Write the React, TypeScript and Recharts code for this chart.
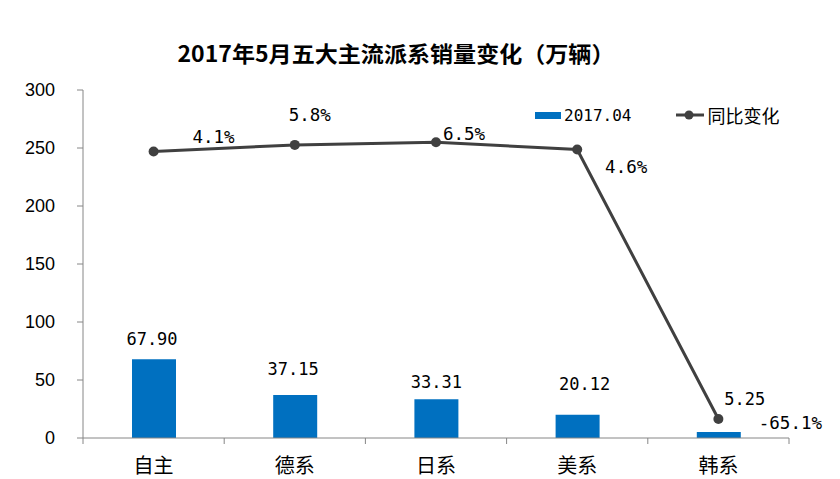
import React from "react";
import { ComposedChart, Bar, Line, XAxis, YAxis, LabelList } from "recharts";

const categories = ["自主", "德系", "日系", "美系", "韩系"];
const sales = [67.9, 37.15, 33.31, 20.12, 5.25];
const yoy = [4.1, 5.8, 6.5, 4.6, -65.1];
const leftTicks = [0, 50, 100, 150, 200, 250, 300];

const data = categories.map((name, i) => ({ name, sales: sales[i], yoy: yoy[i] }));

// label nudges, as in the source where labels were moved by hand
const barLabelShift = [
	[-2, -20],
	[-2, -26],
	[0, -17],
	[7, -31],
	[26, -33],
];
const lineLabelShift = [
	[60, -14],
	[15, -30],
	[28, -8],
	[49, 17],
	[72, 4],
];

const W = 840;
const H = 479;
const PLOT_LEFT = 83;
const PLOT_RIGHT = 789;
const PLOT_TOP = 90;
const PLOT_BOTTOM = 438;
const BAND = (PLOT_RIGHT - PLOT_LEFT) / categories.length;

const AXIS_GREY = "#868686";
const BAR_BLUE = "#0070C0";
const LINE_GREY = "#404040";
const MONO = "'DejaVu Sans Mono', monospace";
const CJK = "'Noto Sans CJK SC', sans-serif";

const CategoryTick = (props: any) => {
	const { x, index } = props;
	const left = x - BAND / 2;
	return (
		<g>
			<line x1={left} x2={left} y1={PLOT_BOTTOM} y2={PLOT_BOTTOM + 6} stroke={AXIS_GREY} />
			{index === categories.length - 1 && (
				<line x1={x + BAND / 2} x2={x + BAND / 2} y1={PLOT_BOTTOM} y2={PLOT_BOTTOM + 6} stroke={AXIS_GREY} />
			)}
			<text x={x} y={PLOT_BOTTOM + 26} textAnchor="middle" dominantBaseline="central" fontSize={20} fontFamily={CJK} fill="#000">
				{props.payload.value}
			</text>
		</g>
	);
};

const BarLabel = (props: any) => {
	const { x, y, width, value, index } = props;
	const [dx, dy] = barLabelShift[index];
	return (
		<text x={x + width / 2 + dx} y={y + dy} textAnchor="middle" dominantBaseline="central" fontSize={17} fontFamily={MONO} fill="#000">
			{Number(value).toFixed(2)}
		</text>
	);
};

const LineLabel = (props: any) => {
	const { x, y, value, index } = props;
	const [dx, dy] = lineLabelShift[index];
	return (
		<text x={x + dx} y={y + dy} textAnchor="middle" dominantBaseline="central" fontSize={17.5} fontFamily={MONO} fill="#000">
			{`${Number(value).toFixed(1)}%`}
		</text>
	);
};

export default function App() {
	return (
		<div style={{ position: "absolute", left: 0, top: 0, width: W, height: H, background: "#fff" }}>
			<svg width={W} height={H} style={{ position: "absolute", left: 0, top: 0 }}>
				<text x={396} y={52} textAnchor="middle" dominantBaseline="central" fontSize={22} fontWeight="bold" fontFamily={CJK} textLength={437} lengthAdjust="spacingAndGlyphs" fill="#000">
					2017年5月五大主流派系销量变化（万辆）
				</text>
			</svg>
			<div style={{ position: "absolute", left: 0, top: 0 }}>
				<ComposedChart
					width={W}
					height={H}
					data={data}
					margin={{ top: PLOT_TOP, right: W - PLOT_RIGHT, bottom: H - PLOT_BOTTOM - 30, left: 23 }}
				>
					<XAxis dataKey="name" height={30} axisLine={{ stroke: AXIS_GREY }} tickLine={false} tick={<CategoryTick />} interval={0} />
					<YAxis
						yAxisId="left"
						width={PLOT_LEFT - 23}
						domain={[0, 300]}
						ticks={leftTicks}
						axisLine={{ stroke: AXIS_GREY }}
						tickLine={{ stroke: AXIS_GREY }}
						tickSize={6}
						tickMargin={22}
						tick={{ fill: "#000", fontSize: 18, fontFamily: "'Liberation Sans', Arial, sans-serif" }}
					/>
					<YAxis yAxisId="right" orientation="right" hide domain={[-70, 20]} />
					<Bar yAxisId="left" dataKey="sales" fill={BAR_BLUE} barSize={44} isAnimationActive={false}>
						<LabelList dataKey="sales" content={<BarLabel />} />
					</Bar>
					<Line
						yAxisId="right"
						dataKey="yoy"
						stroke={LINE_GREY}
						strokeWidth={3}
						dot={{ r: 5, fill: LINE_GREY, stroke: LINE_GREY, strokeWidth: 0 }}
						type="linear"
						isAnimationActive={false}
					>
						<LabelList dataKey="yoy" content={<LineLabel />} />
					</Line>
				</ComposedChart>
			</div>
			<div style={{ position: "absolute", left: 535, top: 104, display: "flex", alignItems: "center", height: 22 }}>
				<span style={{ display: "inline-block", width: 26, height: 7, background: BAR_BLUE }} />
				<span style={{ marginLeft: 3, fontFamily: MONO, fontSize: 16, color: "#000" }}>2017.04</span>
				<svg width={28} height={10} style={{ marginLeft: 45 }}>
					<line x1={0} x2={28} y1={5} y2={5} stroke={LINE_GREY} strokeWidth={3} />
					<circle cx={13} cy={5} r={4.5} fill={LINE_GREY} />
				</svg>
				<span style={{ marginLeft: 3, fontFamily: CJK, fontSize: 18, color: "#000" }}>同比变化</span>
			</div>
		</div>
	);
}
